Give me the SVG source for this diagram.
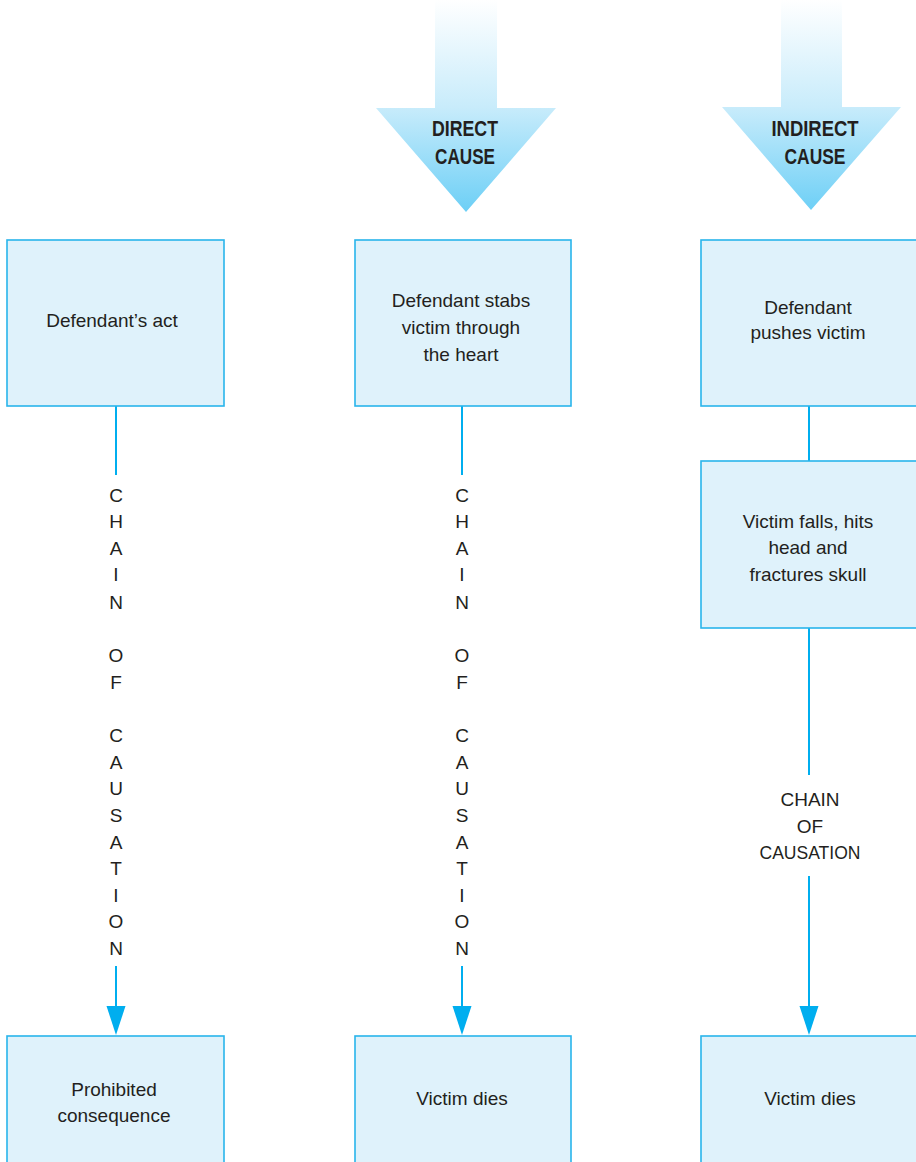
<svg xmlns="http://www.w3.org/2000/svg" width="916" height="1162" viewBox="0 0 916 1162">
  <defs>
    <linearGradient id="causeFill" x1="0" y1="0" x2="0" y2="212" gradientUnits="userSpaceOnUse">
      <stop offset="0" stop-color="#ffffff"/>
      <stop offset="0.5" stop-color="#c9ecfb"/>
      <stop offset="1" stop-color="#6ccff6"/>
    </linearGradient>
    <style>
      .box { fill: #dff2fb; stroke: #29b5ec; stroke-width: 1.6; }
      .link { stroke: #00aeef; stroke-width: 2; fill: none; }
      .head { fill: #00aeef; }
      .label { font-family: "Liberation Sans Narrow", "Liberation Sans", Arial, sans-serif; font-size: 19px; fill: #231f20; text-anchor: middle; }
      .cause { font-family: "Liberation Sans Narrow", "Liberation Sans", Arial, sans-serif; font-size: 22px; font-weight: bold; fill: #231f20; text-anchor: middle; }
    </style>
  </defs>

  <rect width="916" height="1162" fill="#ffffff"/>

  <!-- big downward arrows heading the two right columns -->
  <g id="direct-cause">
    <path d="M435,0 L497,0 L497,108 L556,108 L466,212 L376,108 L435,108 Z" fill="url(#causeFill)"/>
    <text class="cause" x="465" y="136" textLength="66" lengthAdjust="spacingAndGlyphs">DIRECT</text>
    <text class="cause" x="465" y="164" textLength="60" lengthAdjust="spacingAndGlyphs">CAUSE</text>
  </g>
  <g id="indirect-cause">
    <path d="M781,0 L842,0 L842,107 L901,107 L811,210 L722,107 L781,107 Z" fill="url(#causeFill)"/>
    <text class="cause" x="815" y="136" textLength="87" lengthAdjust="spacingAndGlyphs">INDIRECT</text>
    <text class="cause" x="815" y="164" textLength="61" lengthAdjust="spacingAndGlyphs">CAUSE</text>
  </g>

  <!-- connectors -->
  <g id="connectors">
    <line class="link" x1="116" y1="406" x2="116" y2="475"/>
    <line class="link" x1="116" y1="966" x2="116" y2="1007"/>
    <path class="head" d="M106.5,1006 L125.5,1006 L116,1035 Z"/>

    <line class="link" x1="462" y1="406" x2="462" y2="475"/>
    <line class="link" x1="462" y1="966" x2="462" y2="1007"/>
    <path class="head" d="M452.5,1006 L471.5,1006 L462,1035 Z"/>

    <line class="link" x1="809" y1="406" x2="809" y2="461"/>
    <line class="link" x1="809" y1="628" x2="809" y2="775"/>
    <line class="link" x1="809" y1="876" x2="809" y2="1007"/>
    <path class="head" d="M799.5,1006 L818.5,1006 L809,1035 Z"/>
  </g>

  <!-- vertical chain labels -->
  <g id="chain-left">
    <text class="label" x="116" y="502">C</text>
    <text class="label" x="116" y="528">H</text>
    <text class="label" x="116" y="555">A</text>
    <text class="label" x="116" y="581">I</text>
    <text class="label" x="116" y="609">N</text>
    <text class="label" x="116" y="662">O</text>
    <text class="label" x="116" y="689">F</text>
    <text class="label" x="116" y="742">C</text>
    <text class="label" x="116" y="769">A</text>
    <text class="label" x="116" y="795">U</text>
    <text class="label" x="116" y="822">S</text>
    <text class="label" x="116" y="849">A</text>
    <text class="label" x="116" y="875">T</text>
    <text class="label" x="116" y="902">I</text>
    <text class="label" x="116" y="928">O</text>
    <text class="label" x="116" y="955">N</text>
  </g>
  <g id="chain-middle">
    <text class="label" x="462" y="502">C</text>
    <text class="label" x="462" y="528">H</text>
    <text class="label" x="462" y="555">A</text>
    <text class="label" x="462" y="581">I</text>
    <text class="label" x="462" y="609">N</text>
    <text class="label" x="462" y="662">O</text>
    <text class="label" x="462" y="689">F</text>
    <text class="label" x="462" y="742">C</text>
    <text class="label" x="462" y="769">A</text>
    <text class="label" x="462" y="795">U</text>
    <text class="label" x="462" y="822">S</text>
    <text class="label" x="462" y="849">A</text>
    <text class="label" x="462" y="875">T</text>
    <text class="label" x="462" y="902">I</text>
    <text class="label" x="462" y="928">O</text>
    <text class="label" x="462" y="955">N</text>
  </g>
  <g id="chain-right">
    <text class="label" x="810" y="806">CHAIN</text>
    <text class="label" x="810" y="833">OF</text>
    <text class="label" x="810" y="859" textLength="101" lengthAdjust="spacingAndGlyphs">CAUSATION</text>
  </g>

  <!-- left column -->
  <g id="defendants-act">
    <rect class="box" x="7" y="240" width="217" height="166"/>
    <text class="label" x="112" y="327">Defendant’s act</text>
  </g>
  <g id="prohibited-consequence">
    <rect class="box" x="7" y="1036" width="217" height="140"/>
    <text class="label" x="114" y="1096">Prohibited</text>
    <text class="label" x="114" y="1122">consequence</text>
  </g>

  <!-- middle column -->
  <g id="stabs">
    <rect class="box" x="355" y="240" width="216" height="166"/>
    <text class="label" x="461" y="307">Defendant stabs</text>
    <text class="label" x="461" y="334">victim through</text>
    <text class="label" x="461" y="361">the heart</text>
  </g>
  <g id="victim-dies-direct">
    <rect class="box" x="355" y="1036" width="216" height="140"/>
    <text class="label" x="462" y="1105">Victim dies</text>
  </g>

  <!-- right column -->
  <g id="pushes">
    <rect class="box" x="701" y="240" width="230" height="166"/>
    <text class="label" x="808" y="314">Defendant</text>
    <text class="label" x="808" y="339">pushes victim</text>
  </g>
  <g id="falls">
    <rect class="box" x="701" y="461" width="230" height="167"/>
    <text class="label" x="808" y="528">Victim falls, hits</text>
    <text class="label" x="808" y="554">head and</text>
    <text class="label" x="808" y="581">fractures skull</text>
  </g>
  <g id="victim-dies-indirect">
    <rect class="box" x="701" y="1036" width="230" height="140"/>
    <text class="label" x="810" y="1105">Victim dies</text>
  </g>
</svg>
